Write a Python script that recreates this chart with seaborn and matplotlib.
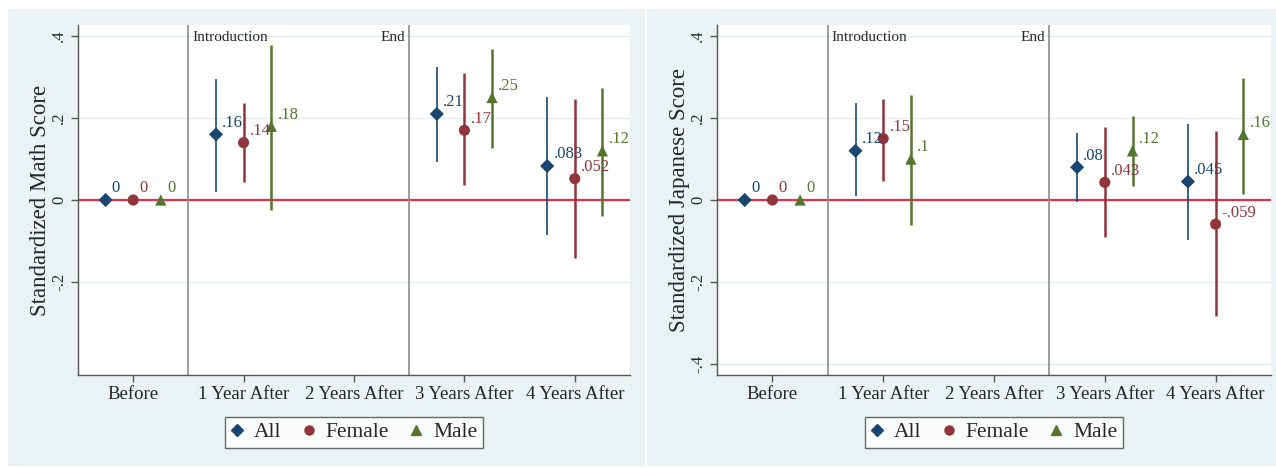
import numpy as np
import pandas as pd
import matplotlib
matplotlib.use("Agg")
import matplotlib.pyplot as plt
from matplotlib.patches import Rectangle
from matplotlib.lines import Line2D
import seaborn as sns

# ---------------- data ----------------
categories = ["Before", "1 Year After", "2 Years After", "3 Years After", "4 Years After"]
groups = ["All", "Female", "Male"]
nan = np.nan

math_all = [0, .16, nan, .21, .083]
math_all_lo = [0, .02, nan, .093, -.085]
math_all_hi = [0, .295, nan, .324, .251]
math_female = [0, .14, nan, .17, .052]
math_female_lo = [0, .044, nan, .037, -.141]
math_female_hi = [0, .236, nan, .31, .246]
math_male = [0, .18, nan, .25, .12]
math_male_lo = [0, -.024, nan, .126, -.039]
math_male_hi = [0, .378, nan, .368, .273]

jap_all = [0, .12, nan, .08, .045]
jap_all_lo = [0, .01, nan, -.005, -.098]
jap_all_hi = [0, .237, nan, .163, .185]
jap_female = [0, .15, nan, .043, -.059]
jap_female_lo = [0, .046, nan, -.09, -.283]
jap_female_hi = [0, .247, nan, .178, .168]
jap_male = [0, .1, nan, .12, .16]
jap_male_lo = [0, -.06, nan, .034, .015]
jap_male_hi = [0, .257, nan, .205, .297]

math_yticks = [-.2, 0, .2, .4]
math_yticklabels = ["-.2", "0", ".2", ".4"]
jap_yticks = [-.4, -.2, 0, .2, .4]
jap_yticklabels = ["-.4", "-.2", "0", ".2", ".4"]

panels = [
    dict(ylabel="Standardized Math Score",
         est=[math_all, math_female, math_male],
         lo=[math_all_lo, math_female_lo, math_male_lo],
         hi=[math_all_hi, math_female_hi, math_male_hi],
         yticks=math_yticks, yticklabels=math_yticklabels),
    dict(ylabel="Standardized Japanese Score",
         est=[jap_all, jap_female, jap_male],
         lo=[jap_all_lo, jap_female_lo, jap_male_lo],
         hi=[jap_all_hi, jap_female_hi, jap_male_hi],
         yticks=jap_yticks, yticklabels=jap_yticklabels),
]

# ---------------- style ----------------
colors = {"All": "#1a476f", "Female": "#90353b", "Male": "#55752f"}
markers = {"All": "D", "Female": "o", "Male": "^"}
msizes = {"All": 52, "Female": 64, "Male": 66}
lws = {"All": 1.2, "Female": 1.8, "Male": 1.8}
offsets = {"All": -0.25, "Female": 0.0, "Male": 0.25}

sns.set_style("white")
plt.rcParams['font.family'] = ['Liberation Serif', 'DejaVu Serif']

W, H = 1276, 468
fig = plt.figure(figsize=(W / 100, H / 100), dpi=100)
fig.patch.set_facecolor("white")


def frect(x0, y0, x1, y1):
    return [x0 / W, 1 - y1 / H, (x1 - x0) / W, (y1 - y0) / H]


bg = "#eaf2f3"
for (x0, x1) in [(8, 645), (647, 1276)]:
    fig.patches.append(Rectangle((x0 / W, 1 - 466 / H), (x1 - x0) / W, (466 - 9) / H,
                                 transform=fig.transFigure, facecolor=bg,
                                 edgecolor="none", zorder=-10))

axes_boxes = [frect(78, 25, 630, 375), frect(717, 25, 1271, 375)]


def fmt(v):
    s = f"{v:g}"
    return s.replace("0.", ".", 1) if s.startswith(("0.", "-0.")) else s


for box, p in zip(axes_boxes, panels):
    ax = fig.add_axes(box)
    ax.set_zorder(1)
    ax.set_facecolor("white")

    rows = []
    for g, e, l, h in zip(groups, p["est"], p["lo"], p["hi"]):
        for i, c in enumerate(categories):
            rows.append(dict(group=g, cat=c, xpos=i + offsets[g], est=e[i], lo=l[i], hi=h[i]))
    df = pd.DataFrame(rows).dropna()

    for t in p["yticks"]:
        if t != 0:
            ax.axhline(t, color="#e3ecef", lw=1.0, zorder=0)
    ax.axhline(0, color="#e3304a", lw=1.6, zorder=1)
    ax.axvline(0.5, color="#8c8c8c", lw=1.2, zorder=1)
    ax.axvline(2.5, color="#8c8c8c", lw=1.2, zorder=1)

    for g in groups:
        d = df[df.group == g]
        ax.vlines(d.xpos, d.lo, d.hi, color=colors[g], lw=lws[g], zorder=2)

    sns.scatterplot(data=df, x="xpos", y="est", hue="group", style="group",
                    size="group", sizes=msizes, markers=markers, palette=colors,
                    hue_order=groups, style_order=groups, size_order=groups,
                    edgecolor="none", legend=False, ax=ax, zorder=3)

    for _, r in df.iterrows():
        ax.annotate(fmt(r.est), (r.xpos, r.est), xytext=(4.5, 5.5),
                    textcoords="offset points", ha="left", va="baseline",
                    color=colors[r.group], fontsize=12, zorder=4)

    ax.text(0.535, 0.397, "Introduction", fontsize=11, ha="left", va="center")
    ax.text(2.465, 0.397, "End", fontsize=11, ha="right", va="center")

    ax.set_xlim(-0.5, 4.5)
    ax.set_ylim(-0.427, 0.427)
    ax.set_xticks(range(len(categories)))
    ax.set_xticklabels(categories, fontsize=13.5)
    ax.set_yticks(p["yticks"])
    ax.set_yticklabels(p["yticklabels"], fontsize=12, rotation=90, va="center")
    ax.set_xlabel("")
    ax.set_ylabel(p["ylabel"], fontsize=16.5, labelpad=0)
    ax.tick_params(axis="both", direction="out", length=5, width=1, color="#555555",
                   left=True, bottom=True, pad=3)
    sns.despine(ax=ax)
    for s in ("left", "bottom"):
        ax.spines[s].set_color("#555555")
        ax.spines[s].set_linewidth(1.0)

    handles = [Line2D([], [], marker=markers[g], color=colors[g], ls="none",
                      markersize=6.5 if g != "All" else 6) for g in groups]
    leg = ax.legend(handles, groups, loc="center", bbox_to_anchor=(0.5, -0.164),
                    ncol=3, frameon=True, fancybox=False, edgecolor="#444444",
                    fontsize=15.5, handletextpad=0.5, columnspacing=0.95,
                    borderpad=0.25, borderaxespad=0, handlelength=0.6)
    leg.get_frame().set_linewidth(1.0)

fig.savefig("out.png", dpi=100, facecolor="white")
